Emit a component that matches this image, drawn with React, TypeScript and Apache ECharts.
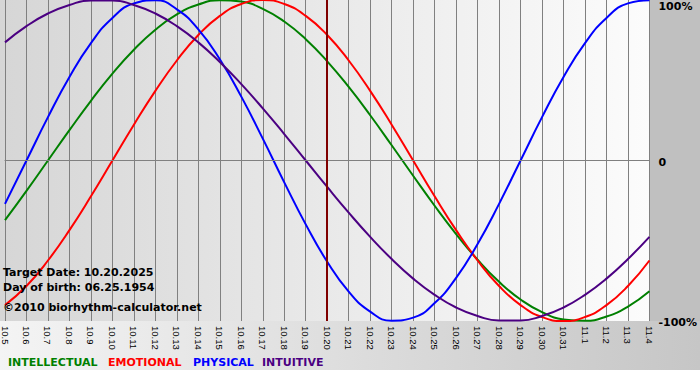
import React, { useEffect, useRef } from "react";
import * as echarts from "echarts";

const dates = [
  "10.5", "10.6", "10.7", "10.8", "10.9", "10.10", "10.11", "10.12", "10.13", "10.14",
  "10.15", "10.16", "10.17", "10.18", "10.19", "10.20", "10.21", "10.22", "10.23", "10.24",
  "10.25", "10.26", "10.27", "10.28", "10.29", "10.30", "10.31", "11.1", "11.2", "11.3", "11.4",
];

const intellectual = [
  -37.2, -18.9, 0, 18.9, 37.2, 54.1, 69.0, 81.5, 91.0, 97.2,
  99.9, 99.0, 94.5, 86.6, 75.6, 61.8, 45.8, 28.2, 9.5, -9.5,
  -28.2, -45.8, -61.8, -75.6, -86.6, -94.5, -99.0, -99.9, -97.2, -91.0, -81.5,
];

const emotional = [
  -90.1, -78.2, -62.3, -43.4, -22.3, 0, 22.3, 43.4, 62.3, 78.2,
  90.1, 97.5, 100, 97.5, 90.1, 78.2, 62.3, 43.4, 22.3, 0,
  -22.3, -43.4, -62.3, -78.2, -90.1, -97.5, -100, -97.5, -90.1, -78.2, -62.3,
];

const physical = [
  -27.0, 0, 27.0, 52.0, 73.1, 88.8, 97.9, 99.8, 94.2, 81.7,
  63.1, 39.8, 13.6, -13.6, -39.8, -63.1, -81.7, -94.2, -99.8, -97.9,
  -88.8, -73.1, -52.0, -27.0, 0, 27.0, 52.0, 73.1, 88.8, 97.9, 99.8,
];

const intuitive = [
  73.6, 83.7, 91.6, 96.9, 99.7, 99.7, 96.9, 91.6, 83.7, 73.6,
  61.4, 47.6, 32.5, 16.5, 0, -16.5, -32.5, -47.6, -61.4, -73.6,
  -83.7, -91.6, -96.9, -99.7, -99.7, -96.9, -91.6, -83.7, -73.6, -61.4, -47.6,
];

const seriesNames = ["INTELLECTUAL", "EMOTIONAL", "PHYSICAL", "INTUITIVE"];
const seriesColors = ["#008000", "#ff0000", "#0000ff", "#4b0082"];
const seriesData = [intellectual, emotional, physical, intuitive];

const targetDate = "10.20";
const infoLines = [
  "Target Date: 10.20.2025",
  "Day of birth: 06.25.1954",
  "\u00a92010 biorhythm-calculator.net",
];

export default function App() {
  const ref = useRef<HTMLDivElement>(null);

  useEffect(() => {
    const chart = echarts.init(ref.current!, null, { renderer: "svg" });
    const boldFont = 'bold 11px "DejaVu Sans"';
    const legendX = [8, 108, 193, 262];
    const infoY = [272, 287, 307];

    chart.setOption({
      animation: false,
      grid: { left: 0, top: 0, width: 650, height: 321, containLabel: false },
      xAxis: {
        type: "category",
        data: dates,
        boundaryGap: false,
        axisLine: { show: true, lineStyle: { color: "#808080", width: 1 } },
        axisTick: { show: true, length: 4, lineStyle: { color: "#808080" } },
        axisLabel: {
          rotate: -90,
          interval: 0,
          fontSize: 9.5,
          fontFamily: "Liberation Sans",
          color: "#000",
          margin: 5,
        },
        splitLine: { show: true, lineStyle: { color: "#808080", width: 1 } },
      },
      yAxis: {
        type: "value",
        min: -100,
        max: 100,
        interval: 100,
        position: "right",
        axisLine: { show: false },
        axisTick: { show: false },
        splitLine: { show: false },
        axisLabel: {
          margin: 9,
          color: "#000",
          fontWeight: "bold",
          fontSize: 11,
          fontFamily: "DejaVu Sans",
          formatter: (v: number) =>
            v === 100 ? "{top|100%}" : v === 0 ? "{mid|0}" : "{bot|-100%}",
          rich: {
            top: { padding: [13, 0, 0, 0], fontWeight: "bold", fontSize: 11, fontFamily: "DejaVu Sans", color: "#000" },
            mid: { padding: [3, 0, 0, 0], fontWeight: "bold", fontSize: 11, fontFamily: "DejaVu Sans", color: "#000" },
            bot: { padding: [2, 0, 0, 0], fontWeight: "bold", fontSize: 11, fontFamily: "DejaVu Sans", color: "#000" },
          },
        },
      },
      graphic: [
        {
          type: "rect",
          z: -10,
          silent: true,
          shape: { x: 0, y: 0, width: 650, height: 321 },
          style: {
            fill: new echarts.graphic.LinearGradient(0, 0, 1, 0, [
              { offset: 0, color: "#d6d6d6" },
              { offset: 1, color: "#fcfcfc" },
            ]),
          },
        },
        {
          type: "rect",
          z: -10,
          silent: true,
          shape: { x: 650, y: 0, width: 50, height: 321 },
          style: { fill: "#c0c0c0" },
        },
        {
          type: "rect",
          z: -10,
          silent: true,
          shape: { x: 0, y: 321, width: 700, height: 49 },
          style: {
            fill: new echarts.graphic.LinearGradient(0, 0, 1, 0, [
              { offset: 0, color: "#f4f4f4" },
              { offset: 1, color: "#c6c6c6" },
            ]),
          },
        },
        ...infoLines.map((t, i) => ({
          type: "text",
          z: 10,
          silent: true,
          x: 3,
          y: infoY[i],
          style: { text: t, fill: "#000", font: boldFont, verticalAlign: "middle" },
        })),
        ...seriesNames.map((n, i) => ({
          type: "text",
          z: 10,
          silent: true,
          x: legendX[i],
          y: 362,
          style: { text: n, fill: seriesColors[i], font: boldFont, verticalAlign: "middle" },
        })),
      ],
      series: seriesData.map((d, i) => ({
        name: seriesNames[i],
        type: "line",
        data: d,
        smooth: true,
        symbol: "none",
        clip: false,
        lineStyle: { color: seriesColors[i], width: 2 },
        itemStyle: { color: seriesColors[i] },
        markLine:
          i === 0
            ? {
                silent: true,
                symbol: "none",
                label: { show: false },
                animation: false,
                data: [
                  { yAxis: 0, lineStyle: { color: "#808080", width: 1, type: "solid" } },
                  { xAxis: targetDate, lineStyle: { color: "#800000", width: 2, type: "solid" } },
                ],
              }
            : undefined,
      })),
    });

    return () => chart.dispose();
  }, []);

  return (
    <div
      ref={ref}
      style={{ position: "absolute", left: 0, top: 0, width: 700, height: 380 }}
    />
  );
}
